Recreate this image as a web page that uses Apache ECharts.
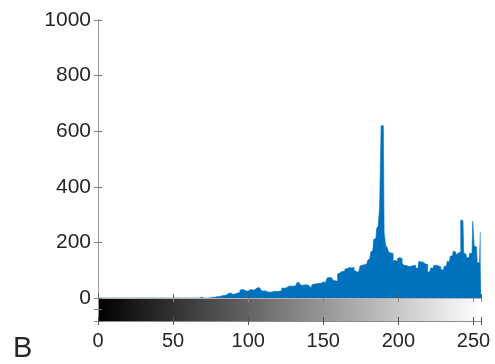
<!DOCTYPE html>
<html>
<head>
<meta charset="utf-8">
<script src="https://cdn.jsdelivr.net/npm/echarts@6/dist/echarts.min.js"></script>
<style>
html,body{margin:0;padding:0;background:#fff;}
#chart{width:495px;height:364px;}
</style>
</head>
<body>
<div id="chart"></div>
<script>
// Intensity levels 0..255 and their pixel counts
const counts = [
  0,0,0,0,0,0,0,0,0,0,
  0,0,0,0,0,0,0,0,0,0,
  0,0,0,0,0,0,0,0,0,0,
  0,0,0,0,0,0,0,0,0,0,
  0,0,0,0,0,0,0,0,0,0,
  0,0,0,0,0,0,0,0,0,0,
  0,0,0,0,0,0,0,0,4,3,
  0,0,0,0,0,1,3,4,3,5,
  6,5,8,10,9,11,10,16,18,14,
  13,15,19,18,20,28,31,29,26,24,
  27,29,31,28,30,32,38,37,35,27,
  25,26,25,22,21,23,22,24,25,23,
  24,26,25,36,35,37,40,42,43,41,
  42,44,43,55,56,48,46,47,45,48,
  44,38,37,48,50,51,49,52,53,57,
  58,56,60,72,74,73,70,64,62,60,
  86,90,96,97,95,104,106,110,112,108,
  110,100,95,93,94,115,118,120,118,122,
  135,142,165,172,210,215,250,258,330,620,
  620,235,190,182,165,162,160,134,135,133,
  143,145,142,122,118,117,116,113,114,112,
  117,118,108,107,131,130,129,128,122,121,
  93,95,108,107,117,118,116,114,113,102,
  101,114,115,132,130,150,152,168,166,156,
  162,165,281,278,162,158,144,146,162,160,
  276,186,184,126,128,236
];
const xTickLabels = [0, 50, 100, 150, 200, 250];
const yTickLabels = [0, 200, 400, 600, 800, 1000];
const colorbarStops = ['#000000', '#ffffff'];
const panelLabel = 'B';

const histData = counts.map((c, i) => [i, c]);

const chart = echarts.init(document.getElementById('chart'), null, {renderer: 'canvas'});
const textColor = '#262626';
const FONT = 'Liberation Sans, Arial, Helvetica, sans-serif';

const option = {
  animation: false,
  backgroundColor: '#ffffff',
  grid: [
    {left: 98, top: 20, width: 383, height: 278, containLabel: false},
    {left: 98, top: 298, width: 383, height: 23, containLabel: false}
  ],
  xAxis: [
    {
      gridIndex: 0, type: 'value', min: 0, max: 255, interval: 50, position: 'bottom',
      axisLine: {show: true, lineStyle: {color: '#404040', width: 1}},
      axisTick: {show: true, inside: true, length: 4, lineStyle: {color: '#555'}},
      axisLabel: {show: false}, splitLine: {show: false}, z: 10
    },
    {
      gridIndex: 0, type: 'value', min: 0, max: 255, interval: 50, position: 'top',
      axisLine: {show: true, lineStyle: {color: '#b4b4b4', width: 1}},
      axisTick: {show: true, inside: true, length: 4, lineStyle: {color: '#888'}},
      axisLabel: {show: false}, splitLine: {show: false}, z: 10
    },
    {
      gridIndex: 1, type: 'value', min: 0, max: 255, interval: 50, position: 'bottom',
      axisLine: {show: true, lineStyle: {color: '#8a8a8a', width: 1}},
      axisTick: {show: true, inside: true, length: 4, lineStyle: {color: '#555'}},
      axisLabel: {show: true, margin: 10, color: textColor, fontSize: 20, fontFamily: FONT,
        customValues: xTickLabels, formatter: v => String(v)},
      splitLine: {show: false}, z: 10
    },
    {
      gridIndex: 1, type: 'value', min: 0, max: 255, interval: 50, position: 'top',
      axisLine: {show: false},
      axisTick: {show: true, inside: true, length: 4, lineStyle: {color: '#555'}},
      axisLabel: {show: false}, splitLine: {show: false}, z: 10
    }
  ],
  yAxis: [
    {
      gridIndex: 0, type: 'value', min: 0, max: 1000, interval: 200, position: 'left',
      axisLine: {show: true, lineStyle: {color: '#8a8a8a', width: 1}},
      axisTick: {show: true, inside: true, length: 4, lineStyle: {color: '#777'}},
      axisLabel: {show: true, margin: 7, color: textColor, fontSize: 21, fontFamily: FONT,
        formatter: v => (yTickLabels.indexOf(v) >= 0 ? String(v) : '')},
      splitLine: {show: false}, z: 10
    },
    {
      gridIndex: 0, type: 'value', min: 0, max: 1000, interval: 200, position: 'right',
      axisLine: {show: true, lineStyle: {color: '#9a9a9a', width: 1}},
      axisTick: {show: true, inside: true, length: 4, lineStyle: {color: '#888'}},
      axisLabel: {show: false}, splitLine: {show: false}, z: 10
    },
    {
      gridIndex: 1, type: 'value', min: 0, max: 1, interval: 0.5, position: 'left',
      axisLine: {show: true, lineStyle: {color: '#8a8a8a', width: 1}},
      axisTick: {show: true, inside: true, length: 4, lineStyle: {color: '#777'}},
      axisLabel: {show: false}, splitLine: {show: false}, z: 10
    },
    {
      gridIndex: 1, type: 'value', min: 0, max: 1, interval: 0.5, position: 'right',
      axisLine: {show: true, lineStyle: {color: '#9a9a9a', width: 1}},
      axisTick: {show: true, inside: true, length: 4, lineStyle: {color: '#888'}},
      axisLabel: {show: false}, splitLine: {show: false}, z: 10
    }
  ],
  series: [
    {
      type: 'line',
      xAxisIndex: 0, yAxisIndex: 0,
      data: histData,
      step: 'middle',
      symbol: 'none',
      clip: true,
      lineStyle: {color: '#0072BD', width: 0.6},
      areaStyle: {color: '#0072BD', opacity: 1},
      z: 2
    },
    {
      type: 'custom',
      xAxisIndex: 2, yAxisIndex: 2,
      data: [[0, 0, 255, 1]],
      renderItem: function (params, api) {
        const a = api.coord([api.value(0), api.value(1)]);
        const b = api.coord([api.value(2), api.value(3)]);
        return {type: 'rect',
          shape: {x: a[0], y: b[1], width: b[0] - a[0], height: a[1] - b[1]},
          style: {fill: new echarts.graphic.LinearGradient(0, 0, 1, 0, [
            {offset: 0, color: colorbarStops[0]}, {offset: 1, color: colorbarStops[1]}])}};
      }
    }
  ],
  graphic: [
    {type: 'text', left: 13, top: 334,
      style: {text: panelLabel, fill: textColor, fontSize: 29, fontFamily: FONT}}
  ]
};
chart.setOption(option);
</script>
</body>
</html>
